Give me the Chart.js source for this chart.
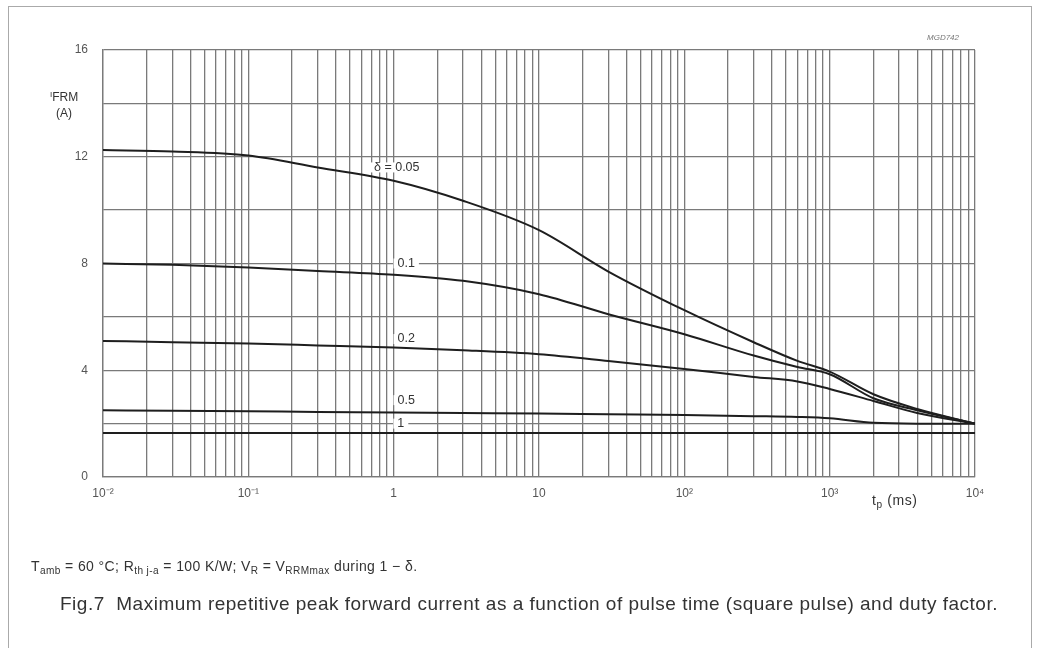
<!DOCTYPE html>
<html>
<head>
<meta charset="utf-8">
<script src="https://cdn.jsdelivr.net/npm/chart.js@4.4.0/dist/chart.umd.min.js"></script>
<style>
  html, body { margin: 0; padding: 0; background: #fff; }
  body { width: 1045px; height: 648px; position: relative; overflow: hidden;
         font-family: "Liberation Sans", Arial, sans-serif; color: #333; }
  #frame { position: absolute; left: 8px; top: 6px; width: 1022px; height: 700px; border: 1px solid #aaa; }
  #chart { position: absolute; left: 0; top: 0; }
  .txt { position: absolute; white-space: nowrap; }
  sub { font-size: 72%; vertical-align: -0.3em; line-height: 0; }
</style>
</head>
<body>
<div id="frame"></div>
<canvas id="chart" width="1045" height="648"></canvas>

<div class="txt" style="left:50px; top:90px; font-size:12px; line-height:15px; text-align:center;">
  <span style="font-size:8px; position:relative; top:-4px;">I</span>FRM<br>(A)
</div>
<div class="txt" style="left:872px; top:492px; font-size:14px; letter-spacing:0.6px;">t<sub>p</sub> (ms)</div>
<div class="txt" style="left:927px; top:33px; font-size:8px; font-style:italic; color:#777;">MGD742</div>
<div class="txt" style="left:31px; top:558px; font-size:14px; letter-spacing:0.4px;">
  T<sub>amb</sub> = 60 °C; R<sub>th j-a</sub> = 100 K/W; V<sub>R</sub> = V<sub>RRMmax</sub> during 1 − δ.
</div>
<div class="txt" style="left:60px; top:593px; font-size:19px; letter-spacing:0.5px;">
  Fig.7&nbsp; Maximum repetitive peak forward current as a function of pulse time (square pulse) and duty factor.
</div>

<script>
// pulse time tp (ms)
const tp = [0.01, 0.03, 0.1, 0.3, 1, 3, 10, 30, 100, 300, 600, 1000, 2000, 4000, 10000];

// IFRM (A) per duty factor
const d005 = [12.25, 12.2, 12.05, 11.6, 11.1, 10.35, 9.25, 7.7, 6.25, 5.05, 4.35, 3.95, 3.1, 2.55, 2.0];
const d01  = [8.0, 7.95, 7.85, 7.72, 7.58, 7.35, 6.85, 6.1, 5.35, 4.55, 4.12, 3.85, 2.95, 2.5, 2.0];
const d02  = [5.1, 5.05, 5.0, 4.93, 4.85, 4.75, 4.6, 4.35, 4.05, 3.75, 3.58, 3.3, 2.85, 2.4, 2.0];
const d05  = [2.5, 2.48, 2.46, 2.44, 2.42, 2.4, 2.38, 2.35, 2.32, 2.28, 2.25, 2.2, 2.03, 2.0, 2.0];
const d1   = [1.65, 1.65, 1.65, 1.65, 1.65, 1.65, 1.65, 1.65, 1.65, 1.65, 1.65, 1.65, 1.65, 1.65, 1.65];

const series = [d005, d01, d02, d05, d1];

// curve labels and where they sit (data units)
const curveLabels = ['δ = 0.05', '0.1', '0.2', '0.5', '1'];
const labelAtX = [1.05, 1.22, 1.22, 1.22, 1.12];
const labelAtY = [11.6, 8, 5.17, 2.88, 2];

// axes
const xTickValues = [0.01, 0.1, 1, 10, 100, 1000, 10000];
const xTickLabels = ['10⁻²', '10⁻¹', '1', '10', '10²', '10³', '10⁴'];
const yMin = 0, yMax = 16, yStep = 2, yLabelStep = 4;

const gridColor = '#7a7a7a';
const curveColor = '#1e1e1e';

const curveLabelPlugin = {
    id: 'curveLabels',
    beforeDatasetsDraw(chart) {
        const { ctx, scales: { x, y } } = chart;
        ctx.save();
        ctx.font = '12.5px "Liberation Sans", Arial, sans-serif';
        ctx.textAlign = 'center';
        ctx.textBaseline = 'middle';
        curveLabels.forEach((t, i) => {
            const px = x.getPixelForValue(labelAtX[i]);
            const py = y.getPixelForValue(labelAtY[i]);
            const w = ctx.measureText(t).width;
            ctx.fillStyle = '#fff';
            ctx.fillRect(px - w / 2 - 4, py - 5, w + 8, 10);
            ctx.fillStyle = '#333';
            ctx.fillText(t, px, py);
        });
        ctx.restore();
    }
};

const tickFont = { family: '"Liberation Sans", Arial, sans-serif', size: 12 };

new Chart(document.getElementById('chart').getContext('2d'), {
    type: 'line',
    data: {
        datasets: series.map((vals, i) => ({
            label: curveLabels[i],
            data: tp.map((t, j) => ({ x: t, y: vals[j] })),
            borderColor: curveColor,
            borderWidth: 2,
            pointRadius: 0,
            fill: false,
            cubicInterpolationMode: 'monotone'
        }))
    },
    options: {
        responsive: false,
        animation: false,
        devicePixelRatio: 1,
        layout: { padding: { top: 50, right: 70, bottom: 131, left: 0 } },
        plugins: { legend: { display: false }, tooltip: { enabled: false } },
        scales: {
            x: {
                type: 'logarithmic',
                min: 0.01,
                max: 10000,
                afterBuildTicks: (scale) => {
                    const ticks = [];
                    xTickValues.forEach((v, i) => {
                        if (i < xTickValues.length - 1) {
                            for (let m = 1; m <= 9; m++) ticks.push({ value: v * m });
                        } else {
                            ticks.push({ value: v });
                        }
                    });
                    scale.ticks = ticks;
                },
                afterFit: (scale) => { scale.height = 40; },
                grid: { color: gridColor, lineWidth: 1.3, drawTicks: false },
                border: { color: gridColor, width: 1.3 },
                ticks: {
                    autoSkip: false,
                    maxRotation: 0,
                    padding: 9,
                    color: '#555',
                    font: tickFont,
                    callback: (value) => {
                        const i = xTickValues.findIndex(v => Math.abs(value - v) / v < 1e-6);
                        return i >= 0 ? xTickLabels[i] : '';
                    }
                }
            },
            y: {
                min: yMin,
                max: yMax,
                afterFit: (scale) => { scale.width = 103; },
                grid: { color: gridColor, lineWidth: 1.3, drawTicks: false },
                border: { color: gridColor, width: 1.3 },
                ticks: {
                    stepSize: yStep,
                    autoSkip: false,
                    padding: 15,
                    color: '#555',
                    font: tickFont,
                    callback: (value) => (value % yLabelStep === 0 ? value : '')
                }
            }
        }
    },
    plugins: [curveLabelPlugin]
});
</script>
</body>
</html>
